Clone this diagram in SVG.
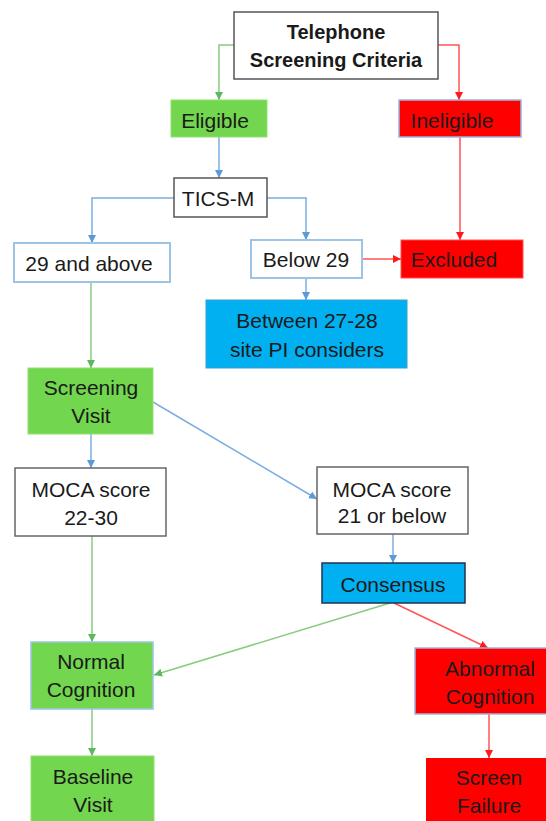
<svg xmlns="http://www.w3.org/2000/svg" width="546" height="821" viewBox="0 0 546 821">
<defs>
<style>
.t{font-family:"Liberation Sans",Arial,sans-serif;font-size:21px;fill:#1a1a1a;text-anchor:middle}
.b{font-weight:bold;font-size:20px}
.g{fill:#72d64e}
.r{fill:#ff0000}
.c{fill:#00b0f0}
.w{fill:#ffffff}
.cg{fill:none;stroke:#88cc7e;stroke-width:1.5}
.cb{fill:none;stroke:#7aaee0;stroke-width:1.5}
.cr{fill:none;stroke:#ff5555;stroke-width:1.5}
</style>
<marker id="ag" viewBox="0 0 10 10" refX="10" refY="5" markerWidth="8" markerHeight="8" markerUnits="userSpaceOnUse" orient="auto"><path d="M0,0 L10,5 L0,10 z" fill="#5cb85c"/></marker>
<marker id="ab" viewBox="0 0 10 10" refX="10" refY="5" markerWidth="8" markerHeight="8" markerUnits="userSpaceOnUse" orient="auto"><path d="M0,0 L10,5 L0,10 z" fill="#5b9bd5"/></marker>
<marker id="ar" viewBox="0 0 10 10" refX="10" refY="5" markerWidth="8" markerHeight="8" markerUnits="userSpaceOnUse" orient="auto"><path d="M0,0 L10,5 L0,10 z" fill="#ff1a1a"/></marker>
</defs>
<rect width="546" height="821" fill="#ffffff"/>
<g id="connectors">
<path class="cg" d="M234,45 H219 V100" marker-end="url(#ag)"/>
<path class="cr" d="M438,45 H459 V100" marker-end="url(#ar)"/>
<path class="cb" d="M219,137 V178" marker-end="url(#ab)"/>
<path class="cr" d="M460,137 V240" marker-end="url(#ar)"/>
<path class="cb" d="M174,198 H92 V243" marker-end="url(#ab)"/>
<path class="cb" d="M267,198 H306 V240" marker-end="url(#ab)"/>
<path class="cr" d="M362,259 H401" marker-end="url(#ar)"/>
<path class="cb" d="M306,278 V300" marker-end="url(#ab)"/>
<path class="cg" d="M91,282 V368" marker-end="url(#ag)"/>
<path class="cb" d="M91,434 V468" marker-end="url(#ab)"/>
<path class="cb" d="M153,402 L317,499" marker-end="url(#ab)"/>
<path class="cb" d="M393,534 V563" marker-end="url(#ab)"/>
<path class="cg" d="M92,536 V642" marker-end="url(#ag)"/>
<path class="cg" d="M390,603 L154,675" marker-end="url(#ag)"/>
<path class="cr" d="M394,603 L488,648" marker-end="url(#ar)"/>
<path class="cr" d="M489,714 V758" marker-end="url(#ar)"/>
<path class="cg" d="M92,709 V756" marker-end="url(#ag)"/>
</g>
<g id="telephone">
<rect x="234" y="12" width="204" height="67" class="w" stroke="#555555" stroke-width="1.5"/>
<text class="t b" x="336" y="39">Telephone</text>
<text class="t b" x="336" y="67">Screening Criteria</text>
</g>
<g id="eligible">
<rect x="171" y="100" width="96" height="37" class="g" stroke="#8fe070" stroke-width="1"/>
<text class="t" x="215" y="128">Eligible</text>
</g>
<g id="ineligible">
<rect x="399" y="100" width="122" height="37" class="r" stroke="#9eb4e0" stroke-width="1.5"/>
<text class="t" x="452" y="128">Ineligible</text>
</g>
<g id="ticsm">
<rect x="174" y="178" width="93" height="39" class="w" stroke="#555555" stroke-width="1.5"/>
<text class="t" x="218" y="206">TICS-M</text>
</g>
<g id="above29">
<rect x="14" y="243" width="156" height="39" class="w" stroke="#9dc3e6" stroke-width="2"/>
<text class="t" x="89" y="271">29 and above</text>
</g>
<g id="below29">
<rect x="251" y="240" width="111" height="38" class="w" stroke="#9dc3e6" stroke-width="2"/>
<text class="t" x="306" y="267">Below 29</text>
</g>
<g id="excluded">
<rect x="401" y="240" width="122" height="38" class="r" stroke="#ff5050" stroke-width="1"/>
<text class="t" x="454" y="267">Excluded</text>
</g>
<g id="between">
<rect x="206" y="300" width="201" height="68" class="c" stroke="#3a9fd0" stroke-width="1"/>
<text class="t" x="307" y="328">Between 27-28</text>
<text class="t" x="307" y="357">site PI considers</text>
</g>
<g id="screening">
<rect x="28" y="368" width="125" height="66" class="g" stroke="#8fe070" stroke-width="1"/>
<text class="t" x="91" y="395">Screening</text>
<text class="t" x="91" y="423">Visit</text>
</g>
<g id="moca2230">
<rect x="15" y="468" width="151" height="68" class="w" stroke="#666666" stroke-width="1.5"/>
<text class="t" x="91" y="497">MOCA score</text>
<text class="t" x="91" y="525">22-30</text>
</g>
<g id="moca21">
<rect x="317" y="467" width="151" height="67" class="w" stroke="#666666" stroke-width="1.5"/>
<text class="t" x="392" y="497">MOCA score</text>
<text class="t" x="392" y="523">21 or below</text>
</g>
<g id="consensus">
<rect x="322" y="563" width="143" height="40" class="c" stroke="#1f3350" stroke-width="1.5"/>
<text class="t" x="393" y="592">Consensus</text>
</g>
<g id="normal">
<rect x="31" y="642" width="122" height="67" class="g" stroke="#9dc3e6" stroke-width="1.5"/>
<text class="t" x="91" y="669">Normal</text>
<text class="t" x="91" y="697">Cognition</text>
</g>
<g id="abnormal">
<rect x="415" y="648" width="134" height="66" class="r" stroke="#9eb4e0" stroke-width="1.5"/>
<text class="t" x="490" y="676">Abnormal</text>
<text class="t" x="490" y="704">Cognition</text>
</g>
<g id="baseline">
<rect x="31" y="756" width="123" height="70" class="g" stroke="#8fe070" stroke-width="1"/>
<text class="t" x="93" y="784">Baseline</text>
<text class="t" x="93" y="812">Visit</text>
</g>
<g id="screenfailure">
<rect x="426" y="758" width="123" height="68" class="r"/>
<text class="t" x="489" y="785">Screen</text>
<text class="t" x="489" y="813">Failure</text>
</g>
</svg>
